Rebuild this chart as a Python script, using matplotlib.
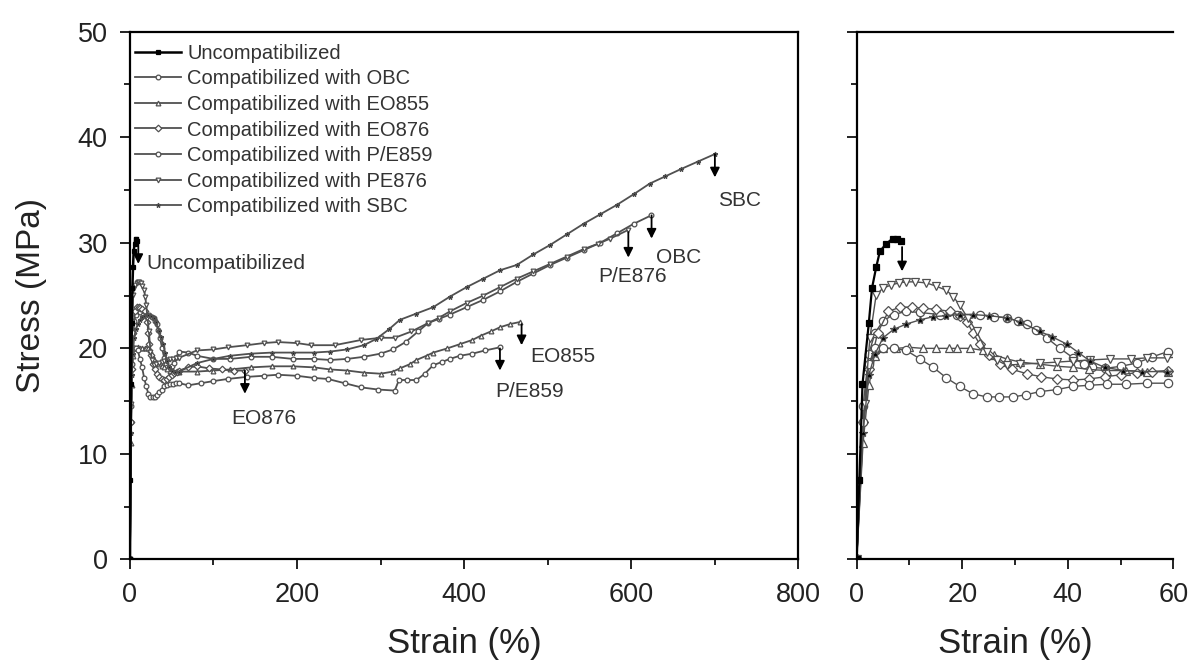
import matplotlib
matplotlib.use('Agg')
import matplotlib.pyplot as plt
from matplotlib.ticker import MultipleLocator

plt.rcParams['font.family'] = ['Liberation Sans', 'DejaVu Sans']

# strain (%) / stress (MPa), one pair per blend
uncomp_strain = [0, 0.5, 1.1, 2.3, 2.9, 3.7, 4.4, 5.6, 6.8, 7.6, 8.4]
uncomp_stress = [0, 7.5, 16.6, 22.4, 25.7, 27.7, 29.2, 29.9, 30.4, 30.4, 30.2]

obc_strain = [0, 1.2, 2.3, 3.5, 5, 7, 9.4, 12, 15.7, 19, 23.3, 26, 28.4, 30.5, 32.2, 34, 36, 38.5, 41, 43,
              44.6, 47, 50, 53, 56, 59, 70, 80, 100, 120, 145, 170, 195, 220, 240, 260, 280, 300, 315, 330,
              345, 357, 370, 383, 403, 423, 443, 463, 483, 503, 523, 543, 563, 583, 603, 624]
obc_stress = [0, 14.5, 19.5, 21.5, 22.6, 23.2, 23.5, 23.4, 23.2, 23.2, 23.2, 23.0, 22.9, 22.6, 22.3, 21.7, 21.0,
              20.0, 19.1, 18.5, 18.2, 18.1, 18.3, 18.6, 19.2, 19.7, 19.6, 19.3, 19.0, 19.0, 19.2, 19.2, 19.0,
              19.0, 18.9, 19.0, 19.2, 19.5, 19.9, 20.6, 21.6, 22.4, 22.8, 23.2, 23.9, 24.6, 25.4, 26.3, 27.1,
              27.9, 28.6, 29.3, 30.0, 30.9, 31.8, 32.6]

eo855_strain = [0, 1.2, 2.3, 3.5, 5, 7.5, 10, 12.5, 15, 17.5, 19, 21.5, 24, 26, 28.4, 31, 34.7, 38, 41, 44,
                47.4, 51, 55, 59, 80, 100, 120, 145, 170, 195, 220, 240, 260, 280, 300, 315, 323, 335, 343,
                355, 363, 380, 395, 410, 420, 432, 443, 455, 467]
eo855_stress = [0, 11, 16.5, 19.3, 20.0, 20.0, 20.1, 20.0, 20.0, 20.0, 20.0, 20.0, 19.8, 19.4, 19.0, 18.7, 18.5,
                18.3, 18.2, 18.0, 17.9, 17.9, 17.8, 17.8, 17.8, 17.9, 18.0, 18.2, 18.3, 18.3, 18.2, 18.0, 17.9,
                17.7, 17.6, 17.8, 18.1, 18.5, 18.9, 19.3, 19.6, 20.0, 20.4, 20.8, 21.2, 21.6, 22.0, 22.3, 22.5]

eo876_strain = [0, 1.2, 2.3, 4, 6, 8.2, 10.5, 12.5, 15, 17.7, 19.5, 20.9, 22, 23.3, 25, 27.1, 29.5, 32.2, 35,
                38, 41, 44, 47, 50, 53, 56, 59, 70, 80, 95, 110, 125, 137.6]
eo876_stress = [0, 13, 18, 21.5, 23.5, 23.9, 23.9, 23.8, 23.7, 23.5, 23.1, 22.5, 21.5, 20.4, 19.4, 18.5, 18.0,
                17.6, 17.3, 17.1, 17.0, 17.1, 17.3, 17.5, 17.7, 17.8, 17.9, 18.2, 18.3, 18.1, 18.0, 17.9, 17.9]

pe859_strain = [0, 1.2, 2.3, 3.5, 5, 7, 9.4, 12, 14.5, 17, 19.5, 22, 24.6, 27, 29.6, 32, 34.7, 38, 41, 44,
                47.4, 51, 55, 59, 70, 85, 100, 117, 140, 160, 177, 200, 220, 237, 257, 277, 297, 317, 322,
                332, 343, 353, 363, 373, 383, 395, 410, 425, 443]
pe859_stress = [0, 13, 18.5, 20.0, 20.0, 20.0, 19.8, 19.0, 18.2, 17.2, 16.4, 15.7, 15.4, 15.4, 15.4, 15.6, 15.9,
                16.1, 16.4, 16.5, 16.6, 16.6, 16.7, 16.7, 16.5, 16.7, 16.9, 17.1, 17.3, 17.4, 17.5, 17.4, 17.2,
                17.1, 16.7, 16.3, 16.1, 16.0, 17.0, 17.0, 17.0, 17.6, 18.4, 18.7, 19.0, 19.3, 19.5, 19.8, 20.1]

pe876_strain = [0, 1.5, 2.5, 3.7, 5, 6.5, 8, 9.4, 11, 13.2, 15, 17, 18.3, 19.5, 21, 22.7, 24.6, 26.5, 28.4, 31,
                34.7, 38, 41, 44.2, 48, 52, 55, 58.7, 80, 100, 117, 140, 160, 177, 200, 217, 245, 277, 300,
                317, 337, 357, 370, 383, 403, 423, 443, 463, 483, 503, 523, 543, 560, 575, 596]
pe876_stress = [0, 14.7, 21, 25.1, 25.7, 26.0, 26.2, 26.3, 26.3, 26.2, 25.9, 25.5, 24.9, 24.1, 22.9, 21.6, 19.7,
                18.9, 18.4, 18.5, 18.6, 18.7, 18.8, 18.9, 19.0, 19.0, 19.1, 19.1, 19.8, 19.9, 20.1, 20.3, 20.5,
                20.6, 20.5, 20.3, 20.3, 20.8, 21.0, 21.0, 21.6, 22.4, 22.9, 23.5, 24.3, 25.0, 25.8, 26.6, 27.3,
                28.0, 28.7, 29.4, 29.9, 30.4, 31.2]

sbc_strain = [0, 1.2, 2.3, 3.5, 5, 7, 9.4, 12, 14.5, 17, 19.5, 22, 25, 28.4, 31, 34.7, 37, 39.8, 42, 44.2, 47,
              50.5, 54, 58.8, 80, 100, 120, 145, 170, 195, 220, 240, 260, 280, 295, 310, 323, 343, 363, 383,
              403, 423, 443, 463, 483, 503, 523, 543, 563, 583, 603, 622, 641, 660, 680, 700]
sbc_stress = [0, 12, 17.5, 19.5, 21.0, 21.8, 22.3, 22.7, 23.0, 23.1, 23.2, 23.2, 23.1, 22.9, 22.5, 21.6, 21.1,
              20.4, 19.6, 18.8, 18.2, 17.9, 17.8, 17.8, 18.6, 19.0, 19.3, 19.5, 19.6, 19.6, 19.6, 19.7, 19.9,
              20.3, 20.9, 21.8, 22.7, 23.3, 23.9, 24.9, 25.8, 26.6, 27.4, 27.9, 28.9, 29.8, 30.8, 31.8, 32.7,
              33.6, 34.6, 35.6, 36.3, 37.0, 37.7, 38.4]

labels = ['Uncompatibilized', 'Compatibilized with OBC', 'Compatibilized with EO855',
          'Compatibilized with EO876', 'Compatibilized with P/E859', 'Compatibilized with PE876',
          'Compatibilized with SBC']

# failure labels and arrows on the big panel: text, text x, text y, arrow x, arrow top, arrow tip
break_names = ['Uncompatibilized', 'EO876', 'P/E859', 'EO855', 'P/E876', 'OBC', 'SBC']
text_x = [20, 121.7, 436.9, 478.8, 560.5, 630, 704]
text_y = [28.0, 13.4, 15.9, 19.2, 26.8, 28.6, 34.0]
arrow_x = [10, 137.6, 442.9, 468.8, 596.6, 624.4, 700.2]
arrow_top = [29.9, 17.9, 20.0, 22.3, 31.0, 32.6, 38.4]
arrow_tip = [28.0, 15.7, 17.9, 20.3, 28.6, 30.4, 36.2]

series = [(uncomp_strain, uncomp_stress), (obc_strain, obc_stress), (eo855_strain, eo855_stress),
          (eo876_strain, eo876_stress), (pe859_strain, pe859_stress), (pe876_strain, pe876_stress),
          (sbc_strain, sbc_stress)]
markers = ['s', 'o', '^', 'D', 'o', 'v', '*']
gray = '#505050'

fig = plt.figure(figsize=(11.9, 6.67), dpi=100)
ax1 = fig.add_axes([0.1092, 0.1612, 0.5616, 0.7913])
ax2 = fig.add_axes([0.7199, 0.1612, 0.2662, 0.7913])

for i, (x, y) in enumerate(series):
    col = 'black' if i == 0 else gray
    face = 'black' if i in (0, 6) else 'white'
    ms_big = 5 if markers[i] == 'D' else 6
    ax1.plot(x, y, color=col, lw=1.8 if i == 0 else 1.3, marker=markers[i], ms=3.4, mfc=face, mec=col,
             mew=0.9, label=labels[i], zorder=3 if i == 0 else 2)
    ax2.plot(x, y, color=col, lw=1.6 if i == 0 else 1.0, marker=markers[i], ms=ms_big if i else 5,
             mfc=face, mec=col, mew=0.9, zorder=3 if i == 0 else 2)

arrow_props = dict(arrowstyle='-|>', color='black', lw=1.3, mutation_scale=14, shrinkA=0, shrinkB=0)
for name, tx, ty, ax_, top, tip in zip(break_names, text_x, text_y, arrow_x, arrow_top, arrow_tip):
    ax1.annotate('', xy=(ax_, tip), xytext=(ax_, top), arrowprops=arrow_props, zorder=5)
    ax1.text(tx, ty, name, fontsize=15, color='#333333', ha='left', va='center')

ax2.annotate('', xy=(8.6, 27.3), xytext=(8.6, 29.6), arrowprops=arrow_props, zorder=5)

ax1.set_xlim(0, 800)
ax1.set_ylim(0, 50)
ax1.xaxis.set_major_locator(MultipleLocator(200))
ax1.xaxis.set_minor_locator(MultipleLocator(100))
ax2.set_xlim(0, 60)
ax2.set_ylim(0, 50)
ax2.xaxis.set_major_locator(MultipleLocator(20))
ax2.xaxis.set_minor_locator(MultipleLocator(10))
ax2.spines['right'].set_visible(False)

for ax in (ax1, ax2):
    ax.yaxis.set_major_locator(MultipleLocator(10))
    ax.yaxis.set_minor_locator(MultipleLocator(5))
    ax.tick_params(which='major', direction='out', length=7, width=1.4, labelsize=19.5, colors='#222222',
                   pad=9)
    ax.tick_params(which='minor', direction='out', length=4, width=1.2)
    for sp in ax.spines.values():
        sp.set_linewidth(1.6)
    ax.set_xlabel('Strain (%)', fontsize=25, color='#222222', labelpad=14)

ax2.tick_params(which='both', labelleft=False)
ax1.set_ylabel('Stress (MPa)', fontsize=24, color='#222222', labelpad=22)

leg = ax1.legend(loc='upper left', bbox_to_anchor=(0.0, 0.987), frameon=False, fontsize=14.5,
                 handlelength=2.3, handletextpad=0.3, labelspacing=0.33, borderpad=0.25,
                 borderaxespad=0.0)
for t in leg.get_texts():
    t.set_color('#333333')

fig.savefig('out.png', dpi=100)
